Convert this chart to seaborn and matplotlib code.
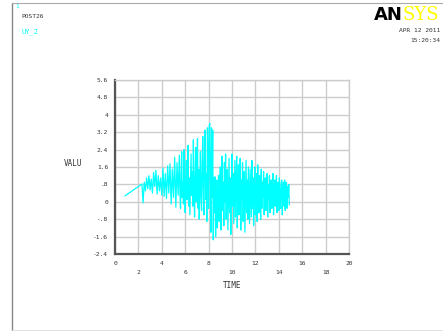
import numpy as np
import pandas as pd
import matplotlib
matplotlib.use("Agg")
import matplotlib.pyplot as plt
import seaborn as sns

# ---- data ----
t_start = [0.85]
v_start = [0.27]

t_slow = np.round(np.arange(2.3, 5.5001, 0.1), 3)
v_slow = [0.82, -0.05, 0.9, 0.5, 1.1, 0.6, 1.2, 0.55, 1.05, 0.4, 1.35, 0.7, 1.45,
          0.35, 1.2, 0.5, 1.1, 0.3, 1.55, 0.25, 1.3, 0.15, 1.65, 0.4, 1.75, -0.1,
          1.5, 0.2, 2.05, -0.25, 1.8, 0.3, 2.15]

t_fast = np.round(np.arange(5.55, 14.9001, 0.05), 3)
v_fast = [
    0.4, -0.3, 1.2, 2.3, 0.2, 0.9, -0.1, 2.4, 0.6, -0.5, 1.0, 1.9, 0.1, 0.7, 2.6, -0.2, 1.1, -0.6, 0.8, 2.2,
    0.3, 1.4, -0.2, 2.85, 0.5, -0.7, 1.2, 2.5, 0.0, 0.9, 2.9, -0.3, 1.5, -0.8, 0.6, 2.3, 0.2, -0.4, 1.8, 3.0,
    0.4, -0.6, 2.6, 3.3, 0.1, 1.3, -0.9, 3.4, 2.2, -0.3, 3.5, 3.6, 0.8, -1.4, 3.4, 0.2, 3.3, -1.75, 1.1, -0.5,
    1.15, -1.6, 0.6, 1.0, -1.2, 0.3, 1.2, -0.9, 0.5, 1.6, -1.3, 0.2, 2.1, -0.4, 0.9, -1.1, 1.8, 0.0, 2.2, -0.8,
    0.6, 1.5, -1.3, 0.3, 2.0, -0.5, 1.1, -1.5, 0.8, 2.2, -0.2, 1.3, -1.0, 0.4, 1.9, -0.7, 0.9, 2.1, -1.2, 0.5,
    1.7, -0.6, 0.2, 2.0, -1.3, 1.0, 0.1, 1.8, -0.9, 0.6, 1.4, -1.4, 0.3, 1.9, -0.5, 1.0, -0.8, 1.6, 0.2, -1.0,
    1.5, 0.4, -0.7, 1.9, -0.3, 1.1, -1.1, 0.7, 1.6, -0.6, 0.2, 1.3, -0.9, 1.7, 0.0, -0.5, 1.2, 0.5, -0.8, 1.5,
    -0.3, 0.9, 0.2, 1.4, -0.6, 0.6, 1.1, -0.4, 0.3, 1.3, -0.7, 0.8, 0.1, 1.2, -0.5, 0.5, 1.0, -0.3, 0.7, 1.3,
    -0.6, 0.4, 1.0, -0.2, 0.8, 1.2, -0.5, 0.3, 0.9, -0.4, 1.1, 0.2, -0.3, 0.8, 1.0, -0.6, 0.5, 0.9, -0.2, 1.0,
    -0.4, 0.6, 0.9, -0.3, 0.7, 0.2, 0.8, -0.15,
]

x_ticks = [0, 2, 4, 6, 8, 10, 12, 14, 16, 18, 20]
x_labels = ["0", "\n2", "4", "\n6", "8", "\n10", "12", "\n14", "16", "\n18", "20"]
y_ticks = [-2.4, -1.6, -0.8, 0, 0.8, 1.6, 2.4, 3.2, 4.0, 4.8, 5.6]
y_labels = ["-2.4", "-1.6", "-.8", "0", ".8", "1.6", "2.4", "3.2", "4", "4.8", "5.6"]

df = pd.DataFrame({
    "TIME": np.concatenate([t_start, t_slow, t_fast]),
    "VALU": np.concatenate([v_start, v_slow, v_fast]),
})

sns.set_style("white")
plt.rcParams["font.family"] = ["DejaVu Sans Mono", "DejaVu Sans"]

W, H = 443, 331
fig = plt.figure(figsize=(W / 100, H / 100), dpi=100)
ax = fig.add_axes([115 / W, 1 - 254 / H, (349 - 115) / W, (254 - 80) / H])

sns.lineplot(data=df, x="TIME", y="VALU", ax=ax, color="#00FFFF", lw=0.9,
             sort=False, estimator=None)

ax.set_xlim(0, 20)
ax.set_ylim(-2.4, 5.6)
ax.set_xticks(x_ticks)
ax.set_xticklabels(x_labels, fontsize=4.5, color="#333333", va="top", linespacing=1.9)
ax.set_yticks(y_ticks)
ax.set_yticklabels(y_labels, fontsize=4.5, color="#333333")
ax.tick_params(length=0, pad=5)
ax.grid(True, color="#cccccc", lw=1.0)
ax.set_axisbelow(True)
ax.set_xlabel("")
ax.set_ylabel("")
for s in ["top", "right"]:
    ax.spines[s].set_color("#cccccc")
    ax.spines[s].set_linewidth(1.0)
for s in ["left", "bottom"]:
    ax.spines[s].set_color("#555555")
    ax.spines[s].set_linewidth(1.6)

fig.text(73 / W, 1 - 163 / H, "VALU", fontsize=5.5, color="#333333", ha="center", va="center")
fig.text(232 / W, 1 - 286 / H, "TIME", fontsize=5.5, color="#333333", ha="center", va="center")

# page frame
fig.add_artist(plt.Line2D([12 / W, 12 / W], [0, 1 - 3 / H], color="#888888", lw=1.0))
fig.add_artist(plt.Line2D([12 / W, 1], [1 - 3 / H, 1 - 3 / H], color="#aaaaaa", lw=0.8))
fig.add_artist(plt.Line2D([12 / W, 1], [1 - 330 / H, 1 - 330 / H], color="#dddddd", lw=0.6))

fig.text(15 / W, 1 - 7 / H, "1", fontsize=4.5, color="#00FFFF", va="center")
fig.text(21 / W, 1 - 17 / H, "POST26", fontsize=4.5, color="#333333", va="center")
fig.text(22 / W, 1 - 32 / H, "UY_2", fontsize=5, color="#00FFFF", va="center")

fig.text(374 / W, 1 - 15 / H, "AN", fontsize=13, fontweight="bold", color="black",
         va="center", family="DejaVu Sans")
fig.text(403 / W, 1 - 15 / H, "SYS", fontsize=13, color="#ffff00",
         va="center", family="DejaVu Serif")
fig.text(440 / W, 1 - 31 / H, "APR 12 2011", fontsize=4.5, color="#333333", ha="right", va="center")
fig.text(440 / W, 1 - 40 / H, "15:20:34", fontsize=4.5, color="#333333", ha="right", va="center")

fig.savefig("out.png", dpi=100)
